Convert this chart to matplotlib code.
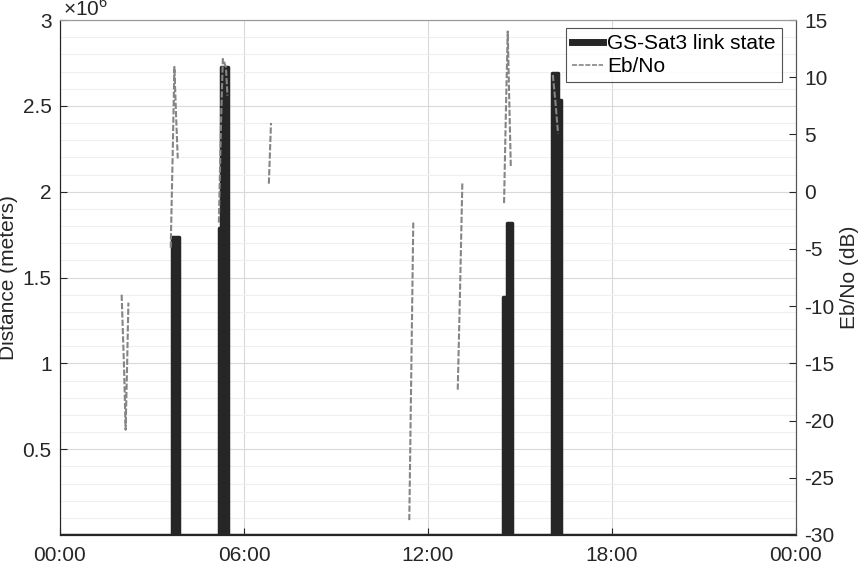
import matplotlib
matplotlib.use('Agg')
import matplotlib.pyplot as plt
import numpy as np
from matplotlib.lines import Line2D

plt.rcParams['font.family'] = ['Liberation Sans', 'DejaVu Sans']
plt.rcParams['mathtext.fontset'] = 'custom'
plt.rcParams['mathtext.rm'] = 'Liberation Sans'
plt.rcParams['axes.unicode_minus'] = False

# link state: distance (x1e6 m) while the link is up, 0 otherwise (hours of day)
link_t = [0, 3.64, 3.89, 5.18, 5.24, 5.47, 14.46, 14.57, 14.75, 16.05, 16.25, 16.34, 24]
link_d = [0, 1.736, 0, 1.788, 2.726, 0, 1.388, 1.815, 0, 2.689, 2.533, 0, 0]

# Eb/No (dB), nan separates passes
ebno_t = [2.01, 2.09, 2.14, 2.19, 2.23, np.nan,
          3.61, 3.68, 3.73, 3.78, 3.84, np.nan,
          5.18, 5.25, 5.31, 5.41, 5.46, np.nan,
          6.81, 6.88, np.nan,
          11.39, 11.52, np.nan,
          12.97, 13.05, 13.12, np.nan,
          14.48, 14.54, 14.60, 14.65, 14.70, np.nan,
          16.07, 16.15, 16.24]
ebno_db = [-9.0, -15.5, -20.8, -15.0, -9.7, np.nan,
           -4.9, 4.0, 10.9, 7.0, 2.9, np.nan,
           -2.7, 6.0, 11.6, 10.9, 8.4, np.nan,
           0.7, 6.0, np.nan,
           -28.7, -2.7, np.nan,
           -17.3, -8.0, 0.8, np.nan,
           -1.0, 7.0, 14.0, 8.0, 2.2, np.nan,
           10.2, 8.0, 5.1]

x_ticks = [0, 6, 12, 18, 24]
x_labels = ['00:00', '06:00', '12:00', '18:00', '00:00']
left_ticks = [0.5, 1, 1.5, 2, 2.5, 3]
right_ticks = [15, 10, 5, 0, -5, -10, -15, -20, -25, -30]

dark = '#262626'
gray = '#858585'
fs = 15

fig = plt.figure(figsize=(8.64, 5.64), dpi=100)
ax = fig.add_axes([60 / 864, 29 / 564, 736 / 864, 515 / 564])
ax2 = ax.twinx()

t = np.array(link_t)
d = np.array(link_d) * 1e6
ax.fill_between(t, d, step='post', color=dark, linewidth=0, zorder=3)
ax.plot(t, d, drawstyle='steps-post', color=dark, linewidth=2.5, zorder=3)

ax.set_xlim(0, 24)
ax.set_ylim(0, 3e6)
ax.set_xticks(x_ticks)
ax.set_xticklabels(x_labels)
ax.set_yticks([v * 1e6 for v in left_ticks])
ax.set_yticklabels([f'{v:g}' for v in left_ticks])
ax.set_yticks(np.arange(0, 3.01e6, 0.1e6), minor=True)
ax.grid(True, which='major', color='#d9d9d9', linewidth=0.8)
ax.grid(True, which='minor', axis='y', color='#efefef', linewidth=0.8)
ax.set_axisbelow(True)
ax.tick_params(direction='in', length=5, labelsize=fs, colors=dark, pad=6)
ax.tick_params(axis='x', pad=8)
ax.tick_params(which='minor', length=0)
ax.set_ylabel('Distance (meters)', fontsize=fs, color=dark, labelpad=3)
ax.text(0.004, 1.0, r'$\times10^{6}$', transform=ax.transAxes, fontsize=fs,
        color=dark, va='bottom', ha='left')

ax2.plot(ebno_t, ebno_db, color=gray, linestyle=(0, (3, 1)), linewidth=1.5)
ax2.set_ylim(-30, 15)
ax2.set_yticks(right_ticks)
ax2.tick_params(direction='in', length=5, labelsize=fs, colors=dark, pad=6)
ax2.set_ylabel('Eb/No (dB)', fontsize=fs, color=dark, labelpad=4)

for a in (ax, ax2):
    a.spines['left'].set_color(dark)
    a.spines['bottom'].set_color(dark)
    a.spines['right'].set_color('#555555')
    a.spines['top'].set_color('#9a9a9a')

handles = [Line2D([], [], color=dark, linewidth=5),
           Line2D([], [], color=gray, linestyle=(0, (3, 1)), linewidth=1.2)]
leg = ax2.legend(handles, ['GS-Sat3 link state', 'Eb/No'], loc='upper right',
                 bbox_to_anchor=(0.981, 0.985), borderaxespad=0,
                 fontsize=fs, frameon=True, fancybox=False, edgecolor=dark,
                 handlelength=1.5, handletextpad=0.2, borderpad=0.3,
                 labelspacing=0.2)
leg.get_frame().set_linewidth(0.8)

fig.savefig('out.png', dpi=100)
